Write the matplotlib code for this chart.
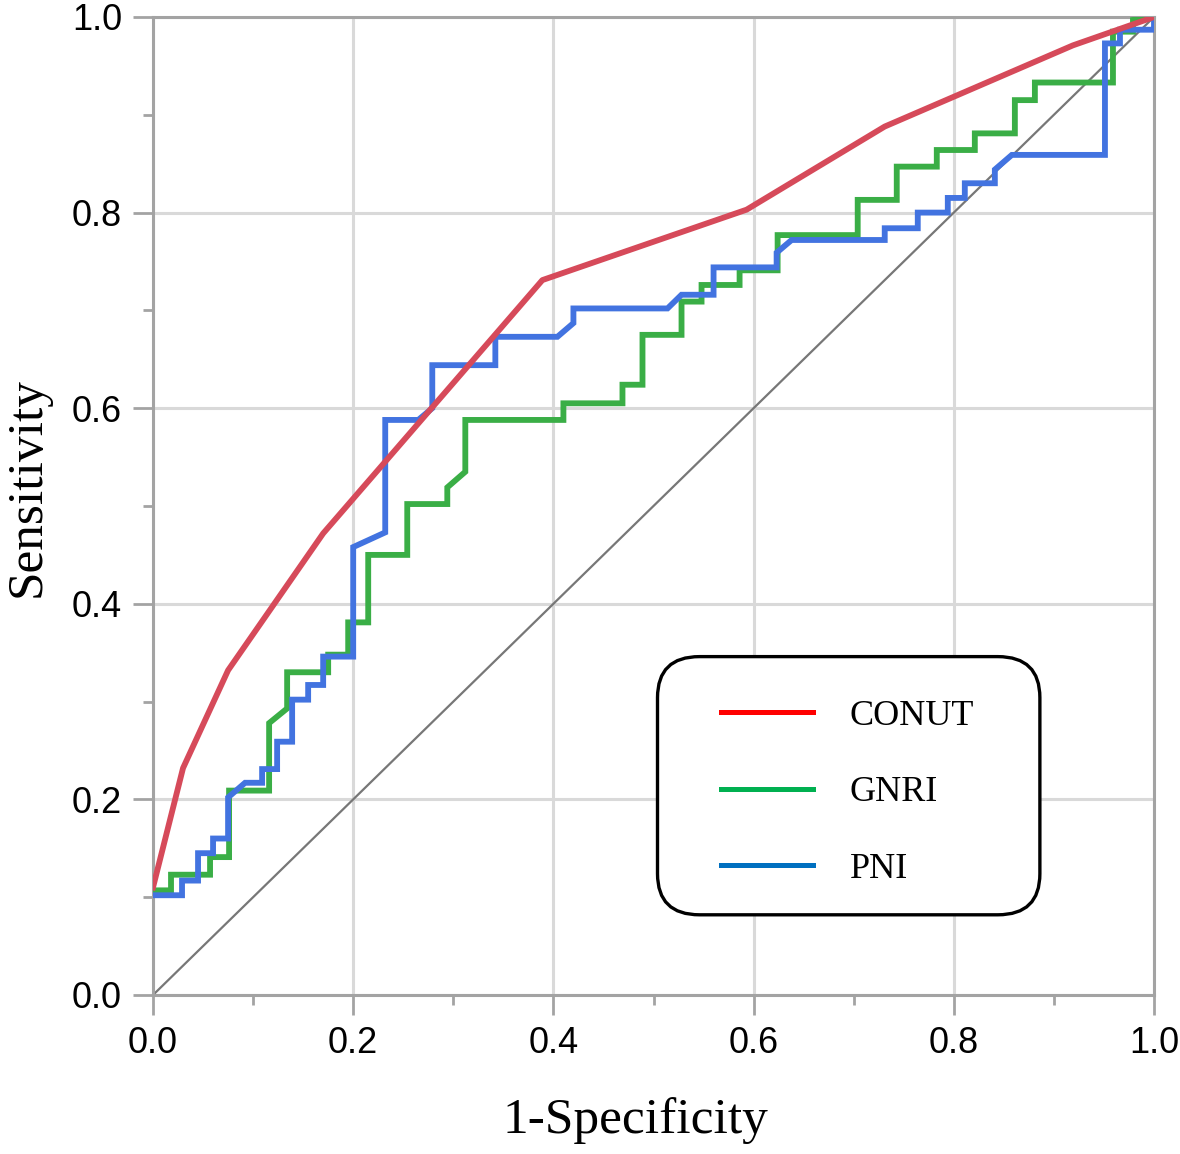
import matplotlib
matplotlib.use("Agg")
import matplotlib.pyplot as plt
from matplotlib.lines import Line2D
from matplotlib.patches import FancyBboxPatch

# ROC curves (1-specificity, sensitivity)
conut_x = [0.0, 0.030, 0.075, 0.170, 0.389, 0.593, 0.731, 0.919, 1.0]
conut_y = [0.110, 0.232, 0.332, 0.472, 0.731, 0.803, 0.888, 0.971, 1.0]

gnri_x = [0.0, 0.018, 0.018, 0.057, 0.057, 0.076, 0.076, 0.116, 0.116, 0.134, 0.134,
          0.175, 0.175, 0.195, 0.195, 0.215, 0.215, 0.254, 0.254, 0.294, 0.294, 0.312,
          0.312, 0.410, 0.410, 0.469, 0.469, 0.489, 0.489, 0.528, 0.528, 0.548, 0.548,
          0.586, 0.586, 0.624, 0.624, 0.704, 0.704, 0.743, 0.743, 0.783, 0.783, 0.821,
          0.821, 0.861, 0.861, 0.881, 0.881, 0.959, 0.959, 0.979, 0.979, 1.0]
gnri_y = [0.107, 0.107, 0.123, 0.123, 0.141, 0.141, 0.209, 0.209, 0.278, 0.293, 0.330,
          0.330, 0.348, 0.348, 0.381, 0.381, 0.450, 0.450, 0.502, 0.502, 0.519, 0.535,
          0.588, 0.588, 0.605, 0.605, 0.624, 0.624, 0.675, 0.675, 0.709, 0.709, 0.726,
          0.726, 0.741, 0.741, 0.777, 0.777, 0.813, 0.813, 0.847, 0.847, 0.864, 0.864,
          0.881, 0.881, 0.915, 0.915, 0.933, 0.933, 0.985, 0.985, 0.997, 1.0]

pni_x = [0.0, 0.029, 0.029, 0.045, 0.045, 0.060, 0.060, 0.075, 0.075, 0.092, 0.109,
         0.109, 0.124, 0.124, 0.139, 0.139, 0.155, 0.155, 0.170, 0.170, 0.200, 0.200,
         0.232, 0.232, 0.265, 0.279, 0.279, 0.342, 0.342, 0.404, 0.420, 0.420, 0.514,
         0.528, 0.560, 0.560, 0.623, 0.623, 0.638, 0.731, 0.731, 0.764, 0.764, 0.794,
         0.794, 0.811, 0.811, 0.841, 0.841, 0.858, 0.951, 0.951, 0.966, 0.966, 1.0, 1.0]
pni_y = [0.102, 0.102, 0.117, 0.117, 0.145, 0.145, 0.160, 0.160, 0.202, 0.217, 0.217,
         0.231, 0.231, 0.259, 0.259, 0.302, 0.302, 0.317, 0.317, 0.346, 0.346, 0.458,
         0.473, 0.588, 0.588, 0.600, 0.644, 0.644, 0.673, 0.673, 0.687, 0.702, 0.702,
         0.716, 0.716, 0.744, 0.744, 0.759, 0.772, 0.772, 0.784, 0.784, 0.800, 0.800,
         0.815, 0.815, 0.830, 0.830, 0.844, 0.859, 0.859, 0.973, 0.973, 0.987, 0.987, 1.0]

labels = ["CONUT", "GNRI", "PNI"]
ticks = [0.0, 0.2, 0.4, 0.6, 0.8, 1.0]

fig = plt.figure(figsize=(11.8, 11.54), dpi=100)
ax = fig.add_axes([153 / 1180, 1 - 995 / 1154, 1001 / 1180, 978 / 1154])

grey = "#a3a3a3"
ax.set_xlim(0, 1)
ax.set_ylim(0, 1)
ax.grid(True, color="#d9d9d9", linewidth=2.2)
ax.set_axisbelow(True)

ax.plot([0, 1], [0, 1], color="#777777", linewidth=1.6, zorder=2)
ax.plot(gnri_x, gnri_y, color="#3aae46", linewidth=4.2, solid_joinstyle="miter", zorder=3)
ax.plot(pni_x, pni_y, color="#4273e0", linewidth=4.2, solid_joinstyle="miter", zorder=4)
ax.plot(conut_x, conut_y, color="#d64a5a", linewidth=4.2, zorder=5)

ax.set_xticks(ticks)
ax.set_yticks(ticks)
ax.set_xticks([0.1, 0.3, 0.5, 0.7, 0.9], minor=True)
ax.set_yticks([0.1, 0.3, 0.5, 0.7, 0.9], minor=True)
ax.set_xticklabels(["%.1f" % t for t in ticks])
ax.set_yticklabels(["%.1f" % t for t in ticks])
ax.tick_params(which="major", length=14.4, width=2, color=grey, pad=8,
               labelsize=26)
ax.tick_params(which="minor", length=7.2, width=2, color=grey)
for lab in ax.get_xticklabels() + ax.get_yticklabels():
    lab.set_fontfamily("Liberation Sans")
for s in ax.spines.values():
    s.set_color(grey)
    s.set_linewidth(2.2)

ax.set_xlabel("1-Specificity", fontfamily="Liberation Serif", fontsize=37)
ax.set_ylabel("Sensitivity", fontfamily="Liberation Serif", fontsize=37)
ax.xaxis.set_label_coords(0.4815, -0.104)
ax.yaxis.set_label_coords(-0.102, 0.519)

# legend box with rounded corners
box = FancyBboxPatch((0.504, 0.082), 0.382, 0.264, transform=ax.transAxes,
                     boxstyle="round,pad=0,rounding_size=0.042",
                     facecolor="white", edgecolor="black", linewidth=2.4, zorder=6)
ax.add_patch(box)

handles = [Line2D([], [], color=c, linewidth=3.6) for c in ["#ff0000", "#00b050", "#0070c0"]]
leg = ax.legend(handles, labels, loc="center", bbox_to_anchor=(0.694, 0.207),
                borderaxespad=0, borderpad=0, frameon=False,
                prop={"family": "Liberation Serif", "size": 26},
                handlelength=2.55, handletextpad=1.0, labelspacing=1.2)
leg.set_zorder(7)

fig.savefig("out.png", dpi=100)
